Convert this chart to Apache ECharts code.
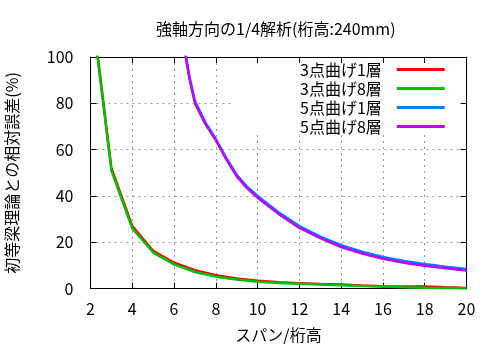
<!DOCTYPE html>
<html>
<head>
<meta charset="utf-8">
<script src="https://cdn.jsdelivr.net/npm/echarts@6/dist/echarts.min.js"></script>
<style>html,body{margin:0;padding:0;background:#fff;}#c{width:500px;height:350px;}</style>
</head>
<body>
<div id="c"></div>
<script>
const titleText = '強軸方向の1/4解析(桁高:240mm)';
const xName = 'スパン/桁高';
const yName = '初等梁理論との相対誤差(%)';
const seriesNames = ['3点曲げ1層', '3点曲げ8層', '5点曲げ1層', '5点曲げ8層'];
const colors = ['#ff0000', '#00c000', '#0080ff', '#c000ff'];

// span / depth ratio
const x3 = [2, 3, 4, 5, 6, 7, 8, 9, 10, 11, 12, 13, 14, 15, 16, 17, 18, 19, 20];
const y3_1 = [126, 52, 27, 16.3, 11.2, 8.0, 5.8, 4.4, 3.4, 2.8, 2.4, 2.0, 1.8, 1.4, 1.1, 0.9, 1.0, 0.6, 0.3];
const y3_8 = [125, 51, 26, 15.6, 10.5, 7.2, 5.2, 4.0, 3.0, 2.5, 2.1, 1.8, 1.5, 1.2, 0.9, 0.6, 0.4, 0.3, 0.2];

const x5 = [6.5, 6.75, 7, 7.5, 8, 8.5, 9, 9.5, 10, 11, 12, 13, 14, 15, 16, 17, 18, 19, 20];
const y5_1 = [104, 91, 81, 71.8, 64.6, 56.5, 49.2, 44, 40, 33, 27, 22.5, 18.8, 16, 13.7, 12, 10.7, 9.5, 8.5];
const y5_8 = [103, 90, 80, 71, 64, 55.8, 48.5, 43.3, 39.3, 32.3, 26.2, 21.8, 18, 15.2, 12.9, 11.2, 9.9, 8.8, 7.8];

const xMin = 2, xMax = 20, xStep = 2;
const yMin = 0, yMax = 100, yStep = 20;

function pairs(xs, ys) { return xs.map((x, i) => [x, ys[i]]); }
const seriesData = [pairs(x3, y3_1), pairs(x3, y3_8), pairs(x5, y5_1), pairs(x5, y5_8)];

const FONT = '"Noto Sans CJK JP", "Noto Sans", sans-serif';
const chart = echarts.init(document.getElementById('c'), null, {renderer: 'canvas'});

const gridLine = {show: true, lineStyle: {color: '#999999', type: [2, 4], width: 1}};
const baseAxisLine = {show: true, onZero: false, lineStyle: {color: '#000', width: 1}};

chart.setOption({
  backgroundColor: '#fff',
  animation: false,
  title: {
    text: titleText, left: 151, top: 16,
    textStyle: {fontFamily: FONT, fontSize: 16, fontWeight: 'normal', color: '#000'}
  },
  grid: {left: 90.5, right: 33.5, top: 57, bottom: 61.3, containLabel: false, outerBoundsMode: 'none'},
  legend: {
    data: seriesNames, orient: 'vertical', align: 'right',
    left: 300, top: 60, padding: 0,
    icon: 'rect', itemWidth: 48, itemHeight: 3, itemGap: 0,
    textStyle: {fontFamily: FONT, fontSize: 16, color: '#000', lineHeight: 19, padding: [0, 10, 0, 0]}
  },
  graphic: [{
    type: 'rect', z: 1, silent: true,
    shape: {x: 233, y: 58.5, width: 228, height: 76},
    style: {fill: '#fff'}
  }],
  xAxis: [{
    type: 'value', min: xMin, max: xMax, interval: xStep, z: 0,
    name: xName, nameLocation: 'middle', nameGap: 38,
    nameTextStyle: {fontFamily: FONT, fontSize: 16, color: '#000'},
    axisLine: baseAxisLine,
    axisTick: {show: true, inside: true, length: 6, lineStyle: {color: '#000'}},
    axisLabel: {fontFamily: FONT, fontSize: 16, color: '#000', margin: 12},
    splitLine: gridLine
  }, {
    type: 'value', min: xMin, max: xMax, interval: xStep, position: 'top', z: 3,
    axisLine: baseAxisLine,
    axisTick: {show: true, inside: true, length: 6, lineStyle: {color: '#000'}},
    axisLabel: {show: false}, splitLine: {show: false}
  }],
  yAxis: [{
    type: 'value', min: yMin, max: yMax, interval: yStep, z: 0,
    name: yName, nameLocation: 'middle', nameGap: 71, nameRotate: 90,
    nameTextStyle: {fontFamily: FONT, fontSize: 16, color: '#000'},
    axisLine: baseAxisLine,
    axisTick: {show: true, inside: true, length: 6, lineStyle: {color: '#000'}},
    axisLabel: {fontFamily: FONT, fontSize: 16, color: '#000', margin: 17},
    splitLine: gridLine
  }, {
    type: 'value', min: yMin, max: yMax, interval: yStep, position: 'right', z: 3,
    axisLine: baseAxisLine,
    axisTick: {show: true, inside: true, length: 6, lineStyle: {color: '#000'}},
    axisLabel: {show: false}, splitLine: {show: false}
  }],
  series: seriesNames.map((n, i) => ({
    name: n, type: 'line', data: seriesData[i], symbol: 'none',
    clip: true, z: 2 + i,
    lineStyle: {color: colors[i], width: 2.5},
    itemStyle: {color: colors[i]}
  }))
});
</script>
</body>
</html>
